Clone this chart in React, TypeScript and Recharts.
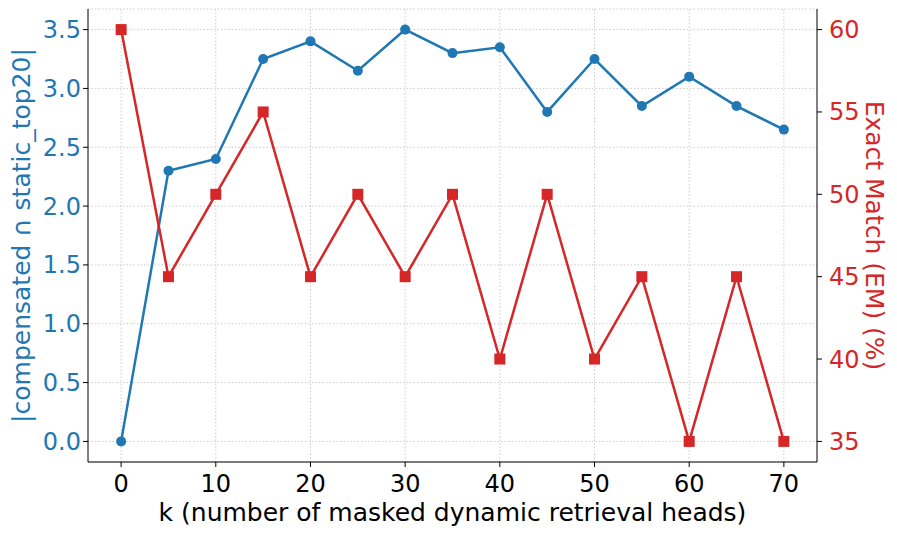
import { CartesianGrid, Line, LineChart, XAxis, YAxis } from "recharts"

const kValues = [0, 5, 10, 15, 20, 25, 30, 35, 40, 45, 50, 55, 60, 65, 70]
const overlap = [0, 2.3, 2.4, 3.25, 3.4, 3.15, 3.5, 3.3, 3.35, 2.8, 3.25, 2.85, 3.1, 2.85, 2.65]
const exactMatch = [60, 45, 50, 55, 45, 50, 45, 50, 40, 50, 40, 45, 35, 45, 35]

const xTicks = [0, 10, 20, 30, 40, 50, 60, 70]
const leftTicks = [0, 0.5, 1, 1.5, 2, 2.5, 3, 3.5]
const rightTicks = [35, 40, 45, 50, 55, 60]

const data = kValues.map((k, i) => ({ k, overlap: overlap[i], em: exactMatch[i] }))

const BLUE = "#1f77b4"
const RED = "#d62728"
const FONT = "DejaVu Sans, sans-serif"

const SquareDot = (props: any) => {
  const { cx, cy } = props
  if (cx == null || cy == null) return null
  return <rect x={cx - 5.5} y={cy - 5.5} width={11} height={11} fill={RED} />
}

export default function App() {
  return (
    <div style={{ position: "absolute", left: 0, top: 0, background: "#fff", fontFamily: FONT }}>
      <LineChart
        width={897}
        height={534}
        data={data}
        margin={{ top: 9, right: 0, bottom: 0, left: 0 }}
      >
        <CartesianGrid
          yAxisId="left"
          stroke="#cccccc"
          strokeDasharray="1.5 2"
          verticalValues={xTicks}
        />
        <XAxis
          dataKey="k"
          type="number"
          domain={[-3.5, 73.5]}
          ticks={xTicks}
          height={72}
          stroke="#000"
          tickSize={5}
          tick={{ fill: "#000", fontSize: 24, fontFamily: FONT, dy: 6 }}
          label={{
            value: "k (number of masked dynamic retrieval heads)",
            position: "insideBottom",
            offset: 13,
            fill: "#000",
            fontSize: 25,
            fontFamily: FONT,
          }}
        />
        <YAxis
          yAxisId="left"
          domain={[-0.175, 3.675]}
          ticks={leftTicks}
          width={88}
          stroke="#000"
          tickSize={5}
          tickFormatter={(v: number) => v.toFixed(1)}
          tick={{ fill: BLUE, fontSize: 24, fontFamily: FONT }}
          label={{
            value: "|compensated ∩ static_top20|",
            angle: -90,
            position: "insideLeft",
            offset: 21,
            style: { textAnchor: "middle" },
            fill: BLUE,
            fontSize: 25,
            fontFamily: FONT,
          }}
        />
        <YAxis
          yAxisId="right"
          orientation="right"
          domain={[33.75, 61.25]}
          ticks={rightTicks}
          width={80}
          stroke="#000"
          tickSize={5}
          tick={{ fill: RED, fontSize: 24, fontFamily: FONT, dx: 5 }}
          label={{
            value: "Exact Match (EM) (%)",
            angle: 90,
            position: "insideRight",
            offset: 22,
            style: { textAnchor: "middle" },
            fill: RED,
            fontSize: 25,
            fontFamily: FONT,
          }}
        />
        <Line
          yAxisId="left"
          dataKey="overlap"
          type="linear"
          stroke={BLUE}
          strokeWidth={2.5}
          dot={{ r: 5, fill: BLUE, stroke: BLUE, strokeWidth: 0 }}
          isAnimationActive={false}
        />
        <Line
          yAxisId="right"
          dataKey="em"
          type="linear"
          stroke={RED}
          strokeWidth={2.5}
          dot={<SquareDot />}
          isAnimationActive={false}
        />
        {/* top spine */}
        <XAxis
          xAxisId="top"
          orientation="top"
          dataKey="k"
          type="number"
          domain={[-3.5, 73.5]}
          height={0}
          tick={false}
          tickLine={false}
          stroke="#000"
        />
      </LineChart>
    </div>
  )
}
